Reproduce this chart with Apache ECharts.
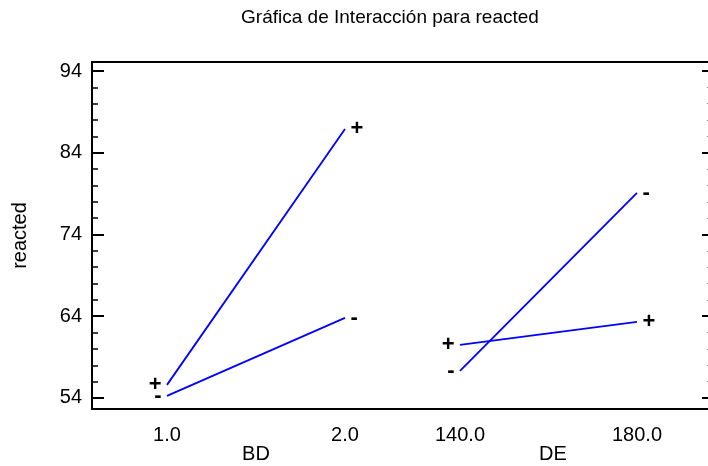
<!DOCTYPE html>
<html>
<head>
<meta charset="utf-8">
<script src="https://cdn.jsdelivr.net/npm/echarts@6/dist/echarts.min.js"></script>
<style>
  html, body { margin: 0; padding: 0; background: #fff; }
  #chart { width: 708px; height: 466px; }
</style>
</head>
<body>
<div id="chart"></div>
<script>
// Interaction plot: mean response at the low/high setting of each factor,
// one line per level of the other factor ('+' / '-').
const titleText = 'Gráfica de Interacción para reacted';
const yName = 'reacted';
const bdName = 'BD';
const deName = 'DE';

const bdLevels = [1.0, 2.0];
const deLevels = [140.0, 180.0];

// BD panel
const bdPlus = [55.6, 86.9];
const bdMinus = [54.25, 63.8];
// DE panel
const dePlus = [60.5, 63.3];
const deMinus = [57.3, 79.1];

const yTicks = [54, 64, 74, 84, 94];
const yMinorTicks = [56, 58, 60, 62, 66, 68, 70, 72, 76, 78, 80, 82, 86, 88, 90, 92];

const Y_MIN = 52.65, Y_MAX = 95.1;
const FONT = 'Liberation Sans, Arial, sans-serif';

const chart = echarts.init(document.getElementById('chart'), null, { renderer: 'canvas' });

// xAxis 1 / yAxis 3 belong to the BD panel, xAxis 2 / yAxis 4 to the DE panel
function interactionLine(axisIdx, levels, values, sign) {
  return {
    type: 'line',
    xAxisIndex: axisIdx,
    yAxisIndex: axisIdx + 2,
    data: levels.map((x, i) => ({
      value: [x, values[i]],
      label: { position: i === 0 ? 'left' : 'right' }
    })),
    symbol: 'circle',
    symbolSize: 1,
    showSymbol: true,
    itemStyle: { color: 'rgba(0,0,0,0)' },
    lineStyle: { color: '#0000ff', width: 1.8 },
    label: {
      show: true,
      formatter: sign,
      fontFamily: FONT,
      fontSize: 22,
      fontWeight: 'bold',
      color: '#000',
      distance: 5
    },
    silent: true,
    animation: false
  };
}

const hiddenY = (gridIndex) => ({
  gridIndex, type: 'value', min: Y_MIN, max: Y_MAX, show: false
});

function factorAxis(gridIndex, levels, min, max, name, namePadding) {
  return {
    gridIndex,
    type: 'value',
    min, max,
    axisLine: { show: false, onZero: false },
    axisTick: { show: false },
    splitLine: { show: false },
    axisLabel: {
      customValues: levels,
      formatter: (v) => v.toFixed(1),
      fontFamily: FONT,
      fontSize: 20,
      color: '#000',
      margin: 16
    },
    name,
    nameLocation: 'middle',
    nameGap: 35,
    nameMoveOverlap: false,
    nameTextStyle: { fontFamily: FONT, fontSize: 20, color: '#000', padding: namePadding }
  };
}

function tickAxis(position, values, length, width, color, withLabels) {
  return {
    gridIndex: 0,
    type: 'value',
    position,
    min: Y_MIN,
    max: Y_MAX,
    axisLine: { show: false, onZero: false },
    splitLine: { show: false },
    axisTick: {
      inside: true,
      customValues: values,
      length,
      lineStyle: { color, width }
    },
    axisLabel: withLabels ? {
      customValues: values,
      fontFamily: FONT,
      fontSize: 20,
      color: '#000',
      margin: 10
    } : { show: false },
    name: withLabels ? yName : '',
    nameLocation: 'middle',
    nameGap: 62,
    nameMoveOverlap: false,
    nameTextStyle: { fontFamily: FONT, fontSize: 20, color: '#000' }
  };
}

const plotBox = { top: 62, height: 347, outerBoundsMode: 'none', containLabel: false };

const option = {
  backgroundColor: '#fff',
  animation: false,
  graphic: [{
    type: 'text',
    x: 390,
    y: 8,
    silent: true,
    style: {
      text: titleText,
      align: 'center',
      verticalAlign: 'top',
      fontFamily: FONT,
      fontSize: 19,
      fill: '#000'
    }
  }],
  grid: [
    Object.assign({ left: 92, width: 617, show: true, borderColor: '#000', borderWidth: 2, backgroundColor: 'transparent' }, plotBox),
    Object.assign({ left: 92, width: 318 }, plotBox),
    Object.assign({ left: 410, width: 299 }, plotBox)
  ],
  xAxis: [
    { gridIndex: 0, type: 'value', min: 0, max: 1, show: false },
    factorAxis(1, bdLevels, 0.5787, 2.3652, bdName, [0, 0, 0, 10]),
    factorAxis(2, deLevels, 128.70, 196.27, deName, [0, 13, 0, 0])
  ],
  yAxis: [
    tickAxis('left', yTicks, 12, 2, '#000', true),
    tickAxis('left', yMinorTicks, 6, 1.5, '#000', false),
    tickAxis('right', yTicks, 7, 2, '#000', false),
    hiddenY(1),
    hiddenY(2),
    tickAxis('right', yMinorTicks, 2, 1, '#888', false)
  ],
  series: [
    interactionLine(1, bdLevels, bdPlus, '+'),
    interactionLine(1, bdLevels, bdMinus, '-'),
    interactionLine(2, deLevels, dePlus, '+'),
    interactionLine(2, deLevels, deMinus, '-')
  ]
};

chart.setOption(option);
</script>
</body>
</html>
